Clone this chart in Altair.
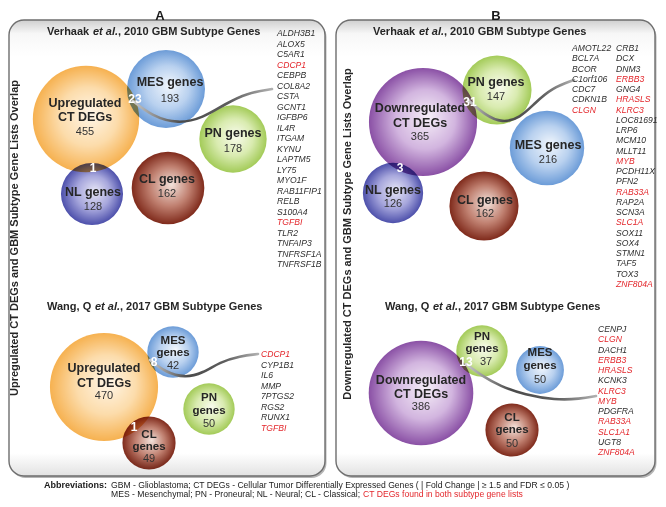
import math
import altair as alt
import pandas as pd

# ---------------- data ----------------
panel_letters = ["A", "B"]
side_titles = ["Upregulated CT DEGs and GBM Subtype Gene Lists Overlap",
               "Downregulated CT DEGs and GBM Subtype Gene Lists Overlap"]

section_ids = ["A1", "A2", "B1", "B2"]
section_author = ["Verhaak ", "Wang, Q ", "Verhaak ", "Wang, Q "]
section_etal = ["et al.", "et al.", "et al.", "et al."]
section_rest = [", 2010 GBM Subtype Genes", ", 2017 GBM Subtype Genes",
                ", 2010 GBM Subtype Genes", ", 2017 GBM Subtype Genes"]

circle_section = ["A1"] * 5 + ["A2"] * 4 + ["B1"] * 5 + ["B2"] * 4
circle_kind = ["up", "mes", "pn", "cl", "nl",
               "up", "mes", "pn", "cl",
               "down", "pn", "mes", "nl", "cl",
               "down", "pn", "mes", "cl"]
circle_name = ["Upregulated\nCT DEGs", "MES genes", "PN genes", "CL genes", "NL genes",
               "Upregulated\nCT DEGs", "MES\ngenes", "PN\ngenes", "CL\ngenes",
               "Downregulated\nCT DEGs", "PN genes", "MES genes", "NL genes", "CL genes",
               "Downregulated\nCT DEGs", "PN\ngenes", "MES\ngenes", "CL\ngenes"]
circle_count = [455, 193, 178, 162, 128,
                470, 42, 50, 49,
                365, 147, 216, 126, 162,
                386, 37, 50, 50]

overlap_count = [23, 1, 8, 1, 31, 3, 13]

genes_A1 = ["ALDH3B1", "ALOX5", "C5AR1", "CDCP1", "CEBPB", "COL8A2", "CSTA", "GCNT1",
            "IGFBP6", "IL4R", "ITGAM", "KYNU", "LAPTM5", "LY75", "MYO1F", "RAB11FIP1",
            "RELB", "S100A4", "TGFBI", "TLR2", "TNFAIP3", "TNFRSF1A", "TNFRSF1B"]
genes_A2 = ["CDCP1", "CYP1B1", "IL6", "MMP", "7PTGS2", "RGS2", "RUNX1", "TGFBI"]
genes_B1a = ["AMOTL22", "BCL7A", "BCOR", "C1orf106", "CDC7", "CDKN1B", "CLGN"]
genes_B1b = ["CRB1", "DCX", "DNM3", "ERBB3", "GNG4", "HRASLS", "KLRC3", "LOC81691",
             "LRP6", "MCM10", "MLLT11", "MYB", "PCDH11X", "PFN2", "RAB33A", "RAP2A",
             "SCN3A", "SLC1A", "SOX11", "SOX4", "STMN1", "TAF5", "TOX3", "ZNF804A"]
genes_B2 = ["CENPJ", "CLGN", "DACH1", "ERBB3", "HRASLS", "KCNK3", "KLRC3", "MYB",
            "PDGFRA", "RAB33A", "SLC1A1", "UGT8", "ZNF804A"]
genes_in_both = ["CDCP1", "TGFBI", "CLGN", "ERBB3", "HRASLS", "KLRC3", "MYB",
                 "RAB33A", "SLC1A", "SLC1A1", "ZNF804A"]

abbrev_head = "Abbreviations:"
abbrev_line1 = ("GBM - Glioblastoma; CT DEGs - Cellular Tumor Differentially Expressed Genes "
                "( | Fold Change | \u2265 1.5 and FDR \u2264 0.05 )")
abbrev_line2 = "MES - Mesenchymal; PN - Proneural; NL - Neural; CL - Classical;"
abbrev_red = "CT DEGs found in both subtype gene lists"

# ---------------- layout (pixel positions) ----------------
panel_x0 = [9, 336]
panel_x1 = [325, 655]
panel_y0 = [20, 20]
panel_y1 = [476, 476]
letter_x = [160, 496]
letter_y = [15.5, 15.5]
side_x = [15, 348]
side_y = [238, 234]

title_x = [47, 47, 373, 385]
title_y = [32, 307, 32, 307]
title_off = [[0, 46, 71], [0, 48, 73], [0, 46, 71], [0, 48, 73]]

circle_cx = [86, 166, 233, 168, 92,
             104, 173, 209, 149,
             423, 497, 547, 393, 484,
             421, 482, 540, 512]
circle_cy = [119, 89, 139, 188, 194,
             387, 352, 409, 443,
             122, 90, 148, 193, 206,
             393, 351, 370, 430]
circle_r = [60, 44, 38, 41, 35,
            61, 29, 29, 30,
            61, 39, 42, 34, 39,
            59, 29, 27, 30]
label_x = [85, 170, 233, 167, 93,
           104, 173, 209, 149,
           420, 496, 548, 393, 485,
           421, 482, 540, 512]
name_y = [103, 82, 133, 179, 192,
          368, 341, 398, 435,
          108, 82, 145, 190, 200,
          380, 337, 353, 418]
name_gap = [14, 0, 0, 0, 0,
            15, 12, 13, 12,
            15, 0, 0, 0, 0,
            14, 12, 13, 12]
name_fs = [12.5, 12.5, 12.5, 12.5, 12.5,
           12.5, 11.5, 11.5, 11.5,
           12.5, 12.5, 12.5, 12.5, 12.5,
           12.5, 11.5, 11.5, 11.5]
count_y = [132, 99, 149, 194, 207,
           396, 366, 424, 459,
           137, 97, 160, 204, 214,
           407, 362, 380, 444]
count_dx = [0, 0, 0, 0, 0, 0, 0, 0, 0, 0, 0, 0, 0, 0, 0, 4, 0, 0]

overlap_x = [135, 93, 154, 134, 470, 400, 466]
overlap_y = [99, 168, 362, 427, 102, 168, 362]

gene_x = [277, 261, 572, 616, 598]
gene_y0 = [33, 354, 48, 48, 329]
gene_dy = [10.5, 10.57, 10.25, 10.25, 10.25]

conn_x = [[133, 152, 178, 203, 225, 247, 272],
          [150, 165, 185, 203, 220, 240, 258],
          [468, 485, 502, 520, 535, 552, 574],
          [466, 482, 500, 525, 555, 580, 596]]
conn_y = [[101, 116, 124, 118, 104, 93, 89],
          [360, 372, 378, 373, 362, 356, 354],
          [100, 115, 123, 118, 103, 88, 80],
          [364, 376, 386, 395, 400, 399, 396]]

foot_head_x, foot_x, foot_red_x = 107, 111, 363
foot_y1, foot_y2 = 485, 494

# ---------------- styles ----------------
FONT = "Liberation Sans"
RED = "#e3262b"
GRAD = {
    "up":   ["#fff6e8", "#fcdcab", "#f6b150"],
    "mes":  ["#f1f6fc", "#b9d1ef", "#6c9cd8"],
    "pn":   ["#f8fbec", "#d9ebb0", "#a3cb58"],
    "cl":   ["#f3e2db", "#c08070", "#7f2a1b"],
    "nl":   ["#e6e5f5", "#a6a6dc", "#4d50ab"],
    "down": ["#f6eff8", "#d2b5df", "#8a50a5"],
}

W, H = 650, 491
XS = alt.Scale(domain=[8, 8 + W], nice=False, zero=False)
YS = alt.Scale(domain=[8, 8 + H], nice=False, zero=False, reverse=True)


def xy(xf="x", yf="y"):
    return dict(x=alt.X(f"{xf}:Q", scale=XS, axis=None),
                y=alt.Y(f"{yf}:Q", scale=YS, axis=None))


layers = []

# panels
panels = pd.DataFrame({"x": panel_x0, "x2": panel_x1, "y": panel_y0, "y2": panel_y1})
layers.append(alt.Chart(panels).mark_rect(
    cornerRadius=15, fill="#b5b5b5", xOffset=1.5, x2Offset=1.5, yOffset=2, y2Offset=2
).encode(x2="x2:Q", y2="y2:Q", **xy()))
panel_grad = {"gradient": "linear", "x1": 0, "y1": 0, "x2": 0, "y2": 1,
              "stops": [{"offset": 0, "color": "#cfcfcf"},
                        {"offset": 0.03, "color": "#f7f7f7"},
                        {"offset": 0.08, "color": "#ffffff"},
                        {"offset": 0.95, "color": "#ffffff"},
                        {"offset": 1, "color": "#e2e2e2"}]}
layers.append(alt.Chart(panels).mark_rect(
    cornerRadius=15, fill=panel_grad, stroke="#6e6e6e", strokeWidth=1.4
).encode(x2="x2:Q", y2="y2:Q", **xy()))

# circles
circ = pd.DataFrame({"kind": circle_kind, "x": circle_cx, "y": circle_cy,
                     "area": [math.pi * r * r for r in circle_r]})
for kind, cols in GRAD.items():
    grad = {"gradient": "radial", "x1": 0.55, "y1": 0.45, "r1": 0,
            "x2": 0.5, "y2": 0.5, "r2": 0.5,
            "stops": [{"offset": 0, "color": cols[0]},
                      {"offset": 0.55, "color": cols[1]},
                      {"offset": 1, "color": cols[2]}]}
    layers.append(alt.Chart(circ).transform_filter(alt.datum.kind == kind).mark_circle(
        fill=grad, opacity=1, strokeWidth=0, blend="multiply"
    ).encode(size=alt.Size("area:Q", scale=None, legend=None), **xy()))

# connectors
crow = []
for i, (xs, ys) in enumerate(zip(conn_x, conn_y)):
    for j, (a, b) in enumerate(zip(xs, ys)):
        crow.append({"id": i, "o": j, "x": a, "y": b})
conn_grad = {"gradient": "linear", "x1": 0, "y1": 0, "x2": 1, "y2": 0,
             "stops": [{"offset": 0, "color": "#c8c8c8"},
                       {"offset": 0.35, "color": "#4a4a4a"},
                       {"offset": 0.7, "color": "#5e5e5e"},
                       {"offset": 1, "color": "#b0b0b0"}]}
layers.append(alt.Chart(pd.DataFrame(crow)).mark_line(
    interpolate="basis", stroke=conn_grad, strokeWidth=2.6, strokeCap="round"
).encode(detail="id:N", order="o:Q", **xy()))

# circle names (bold) and counts
nrows, crows = [], []
for i in range(len(circle_name)):
    for k, line in enumerate(circle_name[i].split("\n")):
        nrows.append({"x": label_x[i], "y": name_y[i] + k * name_gap[i], "t": line,
                      "fs": name_fs[i]})
    crows.append({"x": label_x[i] + count_dx[i], "y": count_y[i], "t": str(circle_count[i])})
layers.append(alt.Chart(pd.DataFrame(nrows)).mark_text(
    font=FONT, fontWeight="bold", color="#262626", baseline="middle"
).encode(text="t:N", size=alt.Size("fs:Q", scale=None, legend=None), **xy()))
layers.append(alt.Chart(pd.DataFrame(crows)).mark_text(
    font=FONT, fontSize=11, color="#333333", baseline="middle"
).encode(text="t:N", **xy()))

# overlap counts
layers.append(alt.Chart(pd.DataFrame({"x": overlap_x, "y": overlap_y,
                                      "t": [str(v) for v in overlap_count]})).mark_text(
    font=FONT, fontSize=12, fontWeight="bold", color="white", baseline="middle"
).encode(text="t:N", **xy()))

# gene lists
grows = []
for gi, genes in enumerate([genes_A1, genes_A2, genes_B1a, genes_B1b, genes_B2]):
    for k, g in enumerate(genes):
        grows.append({"x": gene_x[gi], "y": gene_y0[gi] + k * gene_dy[gi], "t": g,
                      "c": RED if g in genes_in_both else "#2e2e2e"})
layers.append(alt.Chart(pd.DataFrame(grows)).mark_text(
    font=FONT, fontSize=8.6, fontStyle="italic", align="left", baseline="middle"
).encode(text="t:N", color=alt.Color("c:N", scale=None), **xy()))

# section titles
trow_n, trow_i = [], []
for s in range(4):
    o = title_off[s]
    trow_n.append({"x": title_x[s] + o[0], "y": title_y[s], "t": section_author[s]})
    trow_i.append({"x": title_x[s] + o[1], "y": title_y[s], "t": section_etal[s]})
    trow_n.append({"x": title_x[s] + o[2], "y": title_y[s], "t": section_rest[s]})
layers.append(alt.Chart(pd.DataFrame(trow_n)).mark_text(
    font=FONT, fontSize=11, fontWeight="bold", color="#262626", align="left", baseline="middle"
).encode(text="t:N", **xy()))
layers.append(alt.Chart(pd.DataFrame(trow_i)).mark_text(
    font=FONT, fontSize=11, fontWeight="bold", fontStyle="italic", color="#262626",
    align="left", baseline="middle"
).encode(text="t:N", **xy()))

# side titles
layers.append(alt.Chart(pd.DataFrame({"x": side_x, "y": side_y, "t": side_titles})).mark_text(
    font=FONT, fontSize=11, fontWeight="bold", color="#262626", angle=270,
    align="center", baseline="middle"
).encode(text="t:N", **xy()))

# panel letters
layers.append(alt.Chart(pd.DataFrame({"x": letter_x, "y": letter_y, "t": panel_letters})).mark_text(
    font=FONT, fontSize=13, fontWeight="bold", color="#1a1a1a", baseline="middle"
).encode(text="t:N", **xy()))

# footer
layers.append(alt.Chart(pd.DataFrame({"x": [foot_head_x], "y": [foot_y1], "t": [abbrev_head]})).mark_text(
    font=FONT, fontSize=9, fontWeight="bold", color="#1a1a1a", align="right", baseline="middle"
).encode(text="t:N", **xy()))
layers.append(alt.Chart(pd.DataFrame({"x": [foot_x, foot_x, foot_red_x],
                                      "y": [foot_y1, foot_y2, foot_y2],
                                      "t": [abbrev_line1, abbrev_line2, abbrev_red],
                                      "c": ["#1a1a1a", "#1a1a1a", RED]})).mark_text(
    font=FONT, fontSize=8.6, align="left", baseline="middle"
).encode(text="t:N", color=alt.Color("c:N", scale=None), **xy()))

chart = alt.layer(*layers).properties(
    width=W, height=H, padding=0,
    autosize=alt.AutoSizeParams(type="none"),
    background="white",
).configure_view(stroke=None)

chart.save("out.html", embed_options={"renderer": "svg", "actions": False})
